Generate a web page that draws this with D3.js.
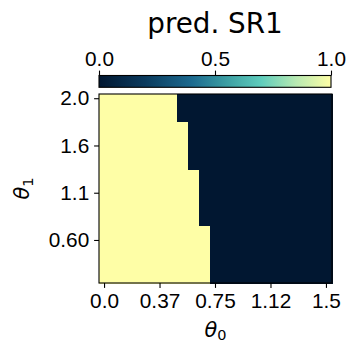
<!DOCTYPE html>
<html lang="en">
<head>
    <meta charset="UTF-8">
    <title>pred. SR1</title>
    <script src="https://d3js.org/d3.v7.min.js"></script>
    <style>
        body { margin: 0; background: #fff; }
        svg { display: block; font-family: "DejaVu Sans", sans-serif; }
        .tick text { font-size: 20.8px; fill: #000; }
        .tick line { stroke: #000; stroke-width: 1.1; }
        .domain { display: none; }
    </style>
</head>
<body>
    <svg id="main-svg" width="358" height="352"></svg>

    <script>
        // grid: 21 theta0 columns, 20 theta1 rows (top row = 2.0)
        const theta0 = [0.0, 0.075, 0.15, 0.225, 0.3, 0.375, 0.45, 0.525, 0.6, 0.675, 0.75,
                        0.825, 0.9, 0.975, 1.05, 1.125, 1.2, 1.275, 1.35, 1.425, 1.5];
        const theta1Rows = d3.range(20); // row index, top to bottom
        // number of columns (from the left) predicted as SR1 in each row, top to bottom
        const sr1Edge = [7, 7, 7, 8, 8, 8, 8, 8, 9, 9, 9, 9, 9, 9, 10, 10, 10, 10, 10, 10];

        const xTickIdx = [0, 5, 10, 15, 20];
        const xTickLabels = ["0.0", "0.37", "0.75", "1.12", "1.5"];
        const yTickIdx = [0, 5, 10, 15];
        const yTickLabels = ["2.0", "1.6", "1.1", "0.60"];
        const cbarTicks = [0, 0.5, 1.0];
        const cbarLabels = ["0.0", "0.5", "1.0"];

        // dark navy -> blue -> teal -> pale yellow
        const cmap = d3.scaleLinear()
            .domain([0, 0.2, 0.4, 0.55, 0.7, 0.85, 1])
            .range(["#011731", "#0b3b5e", "#1c6a8f", "#3c9ea3", "#5fcdbc", "#b8e9b2", "#fefea6"])
            .interpolate(d3.interpolateRgb);

        const svg = d3.select("#main-svg");
        const axLeft = 99, axRight = 332, axTop = 94, axBottom = 283;

        const x = d3.scaleBand().domain(d3.range(theta0.length)).range([axLeft, axRight]).padding(0);
        const y = d3.scaleBand().domain(theta1Rows).range([axTop, axBottom]).padding(0);

        const cells = [];
        theta1Rows.forEach(r => {
            theta0.forEach((t, c) => {
                cells.push({ r: r, c: c, v: c < sr1Edge[r] ? 1 : 0 });
            });
        });

        svg.append("g")
            .selectAll("rect")
            .data(cells)
            .enter()
            .append("rect")
            .attr("x", d => x(d.c))
            .attr("y", d => y(d.r))
            .attr("width", x.bandwidth() + 0.5)
            .attr("height", y.bandwidth() + 0.5)
            .attr("fill", d => cmap(d.v))
            .attr("shape-rendering", "crispEdges");

        svg.append("rect")
            .attr("x", axLeft).attr("y", axTop)
            .attr("width", axRight - axLeft).attr("height", axBottom - axTop)
            .attr("fill", "none").attr("stroke", "#000").attr("stroke-width", 1.1);

        // axes
        const xAxis = d3.axisBottom(x)
            .tickValues(xTickIdx)
            .tickFormat((d, i) => xTickLabels[i])
            .tickSizeInner(4.9).tickSizeOuter(0).tickPadding(4.9);
        svg.append("g").attr("transform", `translate(0,${axBottom})`).call(xAxis);

        const yAxis = d3.axisLeft(y)
            .tickValues(yTickIdx)
            .tickFormat((d, i) => yTickLabels[i])
            .tickSizeInner(4.9).tickSizeOuter(0).tickPadding(4.9);
        svg.append("g").attr("transform", `translate(${axLeft},0)`).call(yAxis);

        svg.append("text")
            .attr("x", (axLeft + axRight) / 2).attr("y", 336.5)
            .attr("text-anchor", "middle")
            .attr("font-size", 20.8)
            .html('<tspan font-style="italic">θ</tspan><tspan font-size="14.5" dy="3.5">0</tspan>');

        svg.append("text")
            .attr("transform", `translate(29,${(axTop + axBottom) / 2}) rotate(-90)`)
            .attr("text-anchor", "middle")
            .attr("font-size", 20.8)
            .html('<tspan font-style="italic">θ</tspan><tspan font-size="14.5" dy="3.5">1</tspan>');

        // colorbar
        const cbTop = 75.5, cbBottom = 87.3, cbLeft = 99, cbRight = 331;
        const cx = d3.scaleLinear().domain([0, 1]).range([cbLeft, cbRight]);
        const grad = svg.append("defs").append("linearGradient").attr("id", "cbar");
        d3.range(0, 1.0001, 0.05).forEach(t => {
            grad.append("stop").attr("offset", t).attr("stop-color", cmap(t));
        });
        svg.append("rect")
            .attr("x", cbLeft).attr("y", cbTop)
            .attr("width", cbRight - cbLeft).attr("height", cbBottom - cbTop)
            .attr("fill", "url(#cbar)")
            .attr("stroke", "#000").attr("stroke-width", 1.1);

        const cAxis = d3.axisTop(cx)
            .tickValues(cbarTicks)
            .tickFormat((d, i) => cbarLabels[i])
            .tickSizeInner(4.9).tickSizeOuter(0).tickPadding(4.9);
        svg.append("g").attr("transform", `translate(0,${cbTop})`).call(cAxis);

        svg.append("text")
            .attr("x", (cbLeft + cbRight) / 2).attr("y", 33)
            .attr("text-anchor", "middle")
            .attr("font-size", 27.8)
            .text("pred. SR1");
    </script>
</body>
</html>
